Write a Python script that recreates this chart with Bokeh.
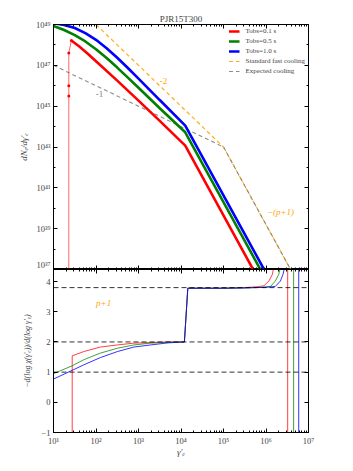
from bokeh.plotting import figure
from bokeh.layouts import column
from bokeh.models import (FixedTicker, LogAxis, LinearAxis, Range1d, Legend, LegendItem,
                          Label, CustomJSTickFormatter, Span)
from bokeh.embed import file_html
from bokeh.resources import INLINE

# ---------------- data (log10 values) ----------------
# upper panel: dN/dgamma
red_lg = [1.42, 1.6, 1.8, 2.0, 2.5, 3.0, 3.5, 4.1, 5.8]
red_lN = [48.22, 47.93, 47.58, 47.2, 46.25, 45.27, 44.28, 43.07, 36.61]
red_rise_lg = [1.36, 1.36, 1.36, 1.36, 1.42]
red_rise_lN = [36.0, 45.5, 46.0, 47.6, 48.22]
green_lg = [1.0, 1.25, 1.5, 1.75, 2.0, 2.25, 2.5, 2.75, 3.0, 3.5, 4.1, 6.0]
green_lN = [48.93, 48.73, 48.48, 48.17, 47.79, 47.36, 46.89, 46.4, 45.9, 44.9, 43.72, 36.5]
blue_lg = [1.0, 1.25, 1.5, 1.75, 2.0, 2.25, 2.5, 2.75, 3.0, 3.5, 4.1, 6.0]
blue_lN = [49.06, 48.98, 48.83, 48.58, 48.25, 47.84, 47.37, 46.87, 46.35, 45.3, 44.05, 36.83]
fast_lg = [2.0, 5.0, 6.8]
fast_lN = [49.0, 43.0, 36.16]
expected_lg = [1.0, 5.0, 6.8]
expected_lN = [47.0, 43.0, 36.16]

# lower panel: spectral index
red_idx_lg = [1.44, 1.44, 1.71, 2.1, 2.5, 2.89, 3.28, 3.7, 4.08, 4.16, 5.0, 5.5, 5.8, 5.95, 6.07, 6.15, 6.2, 6.51, 6.51]
red_idx = [-1.5, 1.54, 1.68, 1.83, 1.9, 1.96, 1.98, 2.0, 2.0, 3.78, 3.78, 3.8, 3.83, 3.86, 4.02, 4.24, 4.6, 5.0, -1.5]
green_idx_lg = [1.0, 1.44, 1.71, 2.1, 2.5, 2.89, 3.28, 3.7, 4.08, 4.16, 5.0, 5.5, 5.9, 6.11, 6.22, 6.3, 6.36, 6.65, 6.65]
green_idx = [0.95, 1.21, 1.41, 1.63, 1.79, 1.9, 1.96, 1.99, 2.0, 3.78, 3.78, 3.79, 3.81, 3.84, 4.02, 4.24, 4.6, 5.0, -1.5]
blue_idx_lg = [1.0, 1.44, 1.71, 2.1, 2.5, 2.89, 3.28, 3.7, 4.08, 4.16, 5.0, 5.5, 6.0, 6.22, 6.34, 6.4, 6.46, 6.77, 6.77]
blue_idx = [0.77, 1.06, 1.24, 1.48, 1.68, 1.83, 1.9, 1.97, 2.0, 3.78, 3.78, 3.79, 3.81, 3.84, 4.02, 4.24, 4.6, 5.0, -1.5]
ref_levels = [1.0, 2.0, 3.8]

legend_labels = ["Tobs=0.1 s", "Tobs=0.5 s", "Tobs=1.0 s", "Standard fast cooling", "Expected cooling"]
x_decades = [1, 2, 3, 4, 5, 6, 7]
y_decades = [37, 39, 41, 43, 45, 47, 49]
idx_ticks = [-1, 0, 1, 2, 3, 4]


def P(a):
    return [10 ** v for v in a]


FONT = "Liberation Serif"
SUP_CODE = """
const sup = {'0':'\u2070','1':'\u00b9','2':'\u00b2','3':'\u00b3','4':'\u2074','5':'\u2075',
             '6':'\u2076','7':'\u2077','8':'\u2078','9':'\u2079','-':'\u207b'};
const e = Math.round(Math.log10(tick));
return '10' + String(e).split('').map(c => sup[c]).join('');
"""

x_major = [10.0 ** d for d in x_decades]
x_minor = [k * 10.0 ** d for d in x_decades[:-1] for k in range(2, 10)]
y_major = [10.0 ** d for d in y_decades]
y_minor = [10.0 ** d for d in range(37, 50)]


def style_axis(ax, labels=True, fs="8.5px"):
    ax.major_tick_in = 4
    ax.major_tick_out = 0
    ax.minor_tick_in = 2
    ax.minor_tick_out = 0
    ax.axis_line_color = "black"
    ax.major_tick_line_color = "black"
    ax.minor_tick_line_color = "black"
    ax.major_label_text_font = FONT
    ax.axis_label_text_font = FONT
    ax.axis_label_text_font_style = "italic"
    if labels:
        ax.major_label_text_font_size = fs
        ax.major_label_standoff = 3
    else:
        ax.major_label_text_font_size = "2px"
        ax.major_label_text_alpha = 0
        ax.major_label_standoff = 0
        ax.formatter = CustomJSTickFormatter(code="return ' ';")


W = 338
xr = Range1d(10, 1e7)

# ---------------- upper panel ----------------
p1 = figure(width=W, height=269, x_axis_type="log", y_axis_type="log",
            x_range=xr, y_range=Range1d(1e37, 1e49),
            output_backend="svg", toolbar_location=None,
            min_border_left=53, min_border_right=30, min_border_top=24, min_border_bottom=0)
p1.title.text = "PJR15T300"
p1.title.align = "center"
p1.title.text_font = FONT
p1.title.text_font_size = "9px"
p1.title.text_font_style = "normal"
p1.title.standoff = 2
p1.xgrid.visible = False
p1.ygrid.visible = False
p1.outline_line_color = "black"

p1.xaxis.ticker = FixedTicker(ticks=x_major, minor_ticks=x_minor)
style_axis(p1.xaxis[0], labels=False)
p1.yaxis.ticker = FixedTicker(ticks=y_major, minor_ticks=y_minor)
p1.yaxis.formatter = CustomJSTickFormatter(code=SUP_CODE)
style_axis(p1.yaxis[0])
p1.yaxis.axis_label = "dN\u2091/d\u03b3\u2032\u2091"
p1.yaxis.axis_label_text_font_size = "9px"
p1.yaxis.axis_label_standoff = 4

ax_top = LogAxis(ticker=FixedTicker(ticks=x_major, minor_ticks=x_minor))
style_axis(ax_top, labels=False)
p1.add_layout(ax_top, "above")
ax_right = LogAxis(ticker=FixedTicker(ticks=y_major, minor_ticks=y_minor))
style_axis(ax_right, labels=False)
p1.add_layout(ax_right, "right")

r_fast = p1.line(P(fast_lg), P(fast_lN), line_color="orange", line_dash="4 3", line_width=1.2, line_alpha=0.9)
r_exp = p1.line(P(expected_lg), P(expected_lN), line_color="gray", line_dash="4 3", line_width=1.1, line_alpha=0.9)
p1.line(P(red_rise_lg), P(red_rise_lN), line_color="red", line_width=1, line_alpha=0.6)
p1.scatter(P(red_rise_lg[1:]), P(red_rise_lN[1:]), size=3, color="red", line_width=0)
r_red = p1.line(P(red_lg), P(red_lN), line_color="red", line_width=2.6)
r_green = p1.line(P(green_lg), P(green_lN), line_color="green", line_width=2.6)
r_blue = p1.line(P(blue_lg), P(blue_lN), line_color="blue", line_width=2.6)

p1.add_layout(Label(x=10 ** 3.59, y=10 ** 46.25, text="-2", text_color="orange", text_font=FONT,
                    text_font_size="9px", text_align="center", text_baseline="middle"))
p1.add_layout(Label(x=10 ** 2.08, y=10 ** 45.62, text="-1", text_color="gray", text_font=FONT,
                    text_font_size="9px", text_align="center", text_baseline="middle"))
p1.add_layout(Label(x=10 ** 6.34, y=10 ** 39.83, text="\u2212(p+1)", text_color="orange", text_font=FONT,
                    text_font_size="9px", text_font_style="italic", text_align="center", text_baseline="middle"))

leg = Legend(items=[LegendItem(label=legend_labels[0], renderers=[r_red]),
                    LegendItem(label=legend_labels[1], renderers=[r_green]),
                    LegendItem(label=legend_labels[2], renderers=[r_blue]),
                    LegendItem(label=legend_labels[3], renderers=[r_fast]),
                    LegendItem(label=legend_labels[4], renderers=[r_exp])],
             location="top_right")
leg.label_text_font = FONT
leg.label_text_font_size = "7px"
leg.label_height = 8
leg.glyph_height = 8
leg.glyph_width = 11
leg.spacing = 2
leg.label_standoff = 6
leg.padding = 1
leg.margin = 2
leg.border_line_alpha = 0
leg.background_fill_alpha = 0
p1.add_layout(leg)

# ---------------- lower panel ----------------
p2 = figure(width=W, height=201, x_axis_type="log",
            x_range=xr, y_range=Range1d(-1, 4.4),
            output_backend="svg", toolbar_location=None,
            min_border_left=53, min_border_right=30, min_border_top=0, min_border_bottom=38)
p2.xgrid.visible = False
p2.ygrid.visible = False
p2.outline_line_color = "black"
p2.xaxis.ticker = FixedTicker(ticks=x_major, minor_ticks=x_minor)
p2.xaxis.formatter = CustomJSTickFormatter(code=SUP_CODE)
style_axis(p2.xaxis[0])
p2.xaxis.axis_label = "\u03b3\u2032\u2091"
p2.xaxis.axis_label_text_font_size = "9px"
p2.xaxis.axis_label_standoff = -2
p2.yaxis.ticker = FixedTicker(ticks=idx_ticks, minor_ticks=[])
style_axis(p2.yaxis[0])
p2.yaxis.axis_label = "\u2212d(log \u03c7(\u03b3\u2032\u2091))/d(log \u03b3\u2032\u2091)"
p2.yaxis.axis_label_text_font_size = "8px"
p2.yaxis.axis_label_standoff = 6

ax_top2 = LogAxis(ticker=FixedTicker(ticks=x_major, minor_ticks=x_minor))
style_axis(ax_top2, labels=False)
p2.add_layout(ax_top2, "above")
ax_right2 = LinearAxis(ticker=FixedTicker(ticks=idx_ticks, minor_ticks=[]))
style_axis(ax_right2, labels=False)
p2.add_layout(ax_right2, "right")

for lvl in ref_levels:
    p2.add_layout(Span(location=lvl, dimension="width", line_color="black", line_dash="5 3",
                       line_width=1, line_alpha=0.8))

p2.line(P(red_idx_lg), red_idx, line_color="red", line_width=1, line_alpha=0.75)
p2.line(P(green_idx_lg), green_idx, line_color="green", line_width=1, line_alpha=0.75)
p2.line(P(blue_idx_lg), blue_idx, line_color="blue", line_width=1, line_alpha=0.8)

p2.add_layout(Label(x=10 ** 2.18, y=3.3, text="p+1", text_color="orange", text_font=FONT,
                    text_font_size="9px", text_font_style="italic", text_align="center", text_baseline="middle"))

layout = column(p1, p2, spacing=0)
open("out.html", "w").write(file_html(layout, INLINE))
